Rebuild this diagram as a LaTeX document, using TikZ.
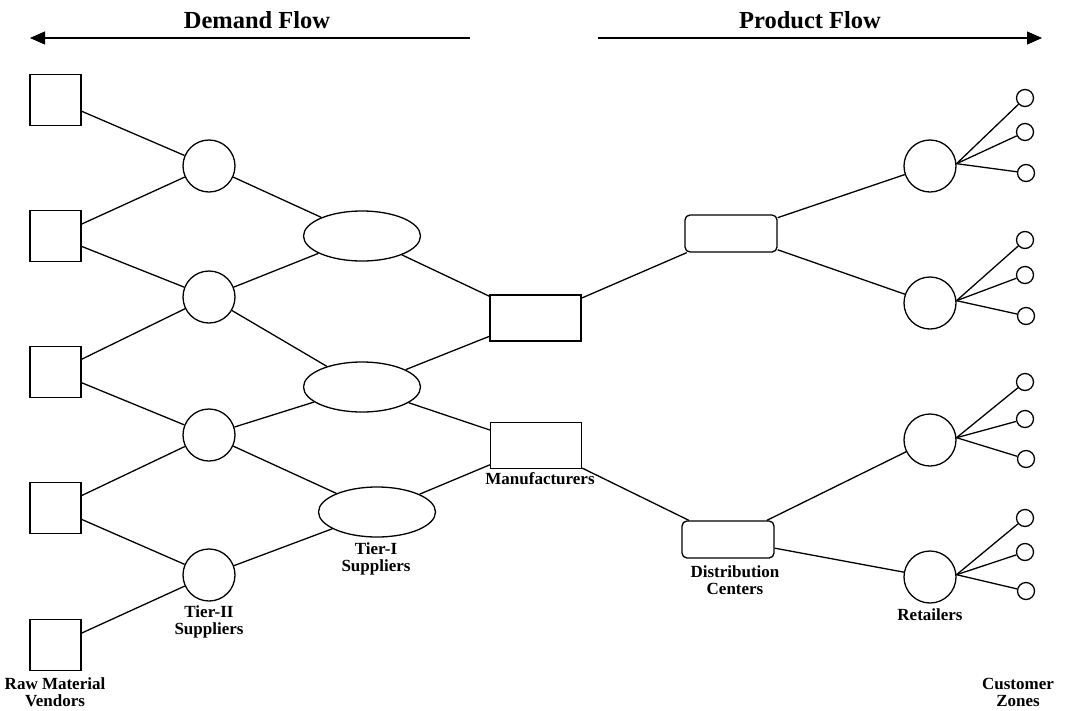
\documentclass[tikz,border=0pt]{standalone}
\usepackage{fontspec}
\setmainfont{Liberation Serif}
\usetikzlibrary{arrows.meta,shapes.geometric}
\begin{document}
\begin{tikzpicture}[x=1pt,y=-1pt, line width=1.3pt,
 vendor/.style={draw, minimum width=51pt, minimum height=51pt, inner sep=0pt},
 tiertwo/.style={draw, circle, minimum size=52pt, inner sep=0pt},
 tierone/.style={draw, ellipse, minimum width=117pt, minimum height=50pt, inner sep=0pt},
 maker/.style={draw, minimum width=91pt, minimum height=46pt, inner sep=0pt},
 dc/.style={draw, rounded corners=5pt, minimum width=92pt, minimum height=37pt, inner sep=0pt},
 retail/.style={draw, circle, minimum size=52pt, inner sep=0pt},
 cust/.style={draw, circle, minimum size=17pt, inner sep=0pt},
 lbl/.style={font=\bfseries\fontsize{17}{17}\selectfont, align=center, inner sep=0pt},
 ttl/.style={font=\bfseries\fontsize{24.5}{24.5}\selectfont, inner sep=0pt},
 flow/.style={line width=1.1pt, -{Triangle[length=15pt,width=13pt]}}]
\useasboundingbox (0,0) rectangle (1065,710);

% titles and flow arrows
\node[ttl] (tdemand) at (257,20) {Demand Flow};
\node[ttl] (tproduct) at (810,20) {Product Flow};
\coordinate (dfs) at (470,38);
\coordinate (dfe) at (30,38);
\coordinate (pfs) at (598,38);
\coordinate (pfe) at (1042,38);
\draw[flow] (dfs) -- (dfe);
\draw[flow] (pfs) -- (pfe);

% raw material vendors
\node[vendor] (s1) at (55.5,100) {};
\node[vendor] (s2) at (55.5,236) {};
\node[vendor] (s3) at (55.5,372) {};
\node[vendor] (s4) at (55.5,508) {};
\node[vendor] (s5) at (55.5,645) {};

% tier II
\node[tiertwo] (t1) at (209,166) {};
\node[tiertwo] (t2) at (209,297) {};
\node[tiertwo] (t3) at (209,435) {};
\node[tiertwo] (t4) at (209,575) {};

% tier I
\node[tierone] (e1) at (362,236) {};
\node[tierone] (e2) at (362,387) {};
\node[tierone] (e3) at (377,512) {};

% manufacturers
\node[maker] (m1) at (535.5,318) {};
\node[maker] (m2) at (536,445.5) {};

% distribution centers
\node[dc] (d1) at (731,233.5) {};
\node[dc] (d2) at (728,539.5) {};

% retailers
\node[retail] (r1) at (930,166) {};
\node[retail] (r2) at (930,303) {};
\node[retail] (r3) at (930,440) {};
\node[retail] (r4) at (930,577) {};

% customers
\node[cust] (c11) at (1025,98) {};
\node[cust] (c12) at (1025,132) {};
\node[cust] (c13) at (1026,173) {};
\node[cust] (c21) at (1025,240) {};
\node[cust] (c22) at (1025,275) {};
\node[cust] (c23) at (1026,316) {};
\node[cust] (c31) at (1025,382) {};
\node[cust] (c32) at (1025,419) {};
\node[cust] (c33) at (1026,459) {};
\node[cust] (c41) at (1025,518) {};
\node[cust] (c42) at (1025,552) {};
\node[cust] (c43) at (1026,591) {};

% labels
\node[lbl] (lraw) at (55,692) {Raw Material\\Vendors};
\node[lbl] (ltwo) at (209,622) {Tier-II\\Suppliers};
\node[lbl] (lone) at (376,559) {Tier-I\\Suppliers};
\node[lbl] (lman) at (540,479) {Manufacturers};
\node[lbl] (ldc) at (735,580) {Distribution\\Centers};
\node[lbl] (lret) at (930,615) {Retailers};
\node[lbl] (lcust) at (1018,692) {Customer\\Zones};

% connectors
\draw (s1) -- (t1);
\draw (s2) -- (t1);
\draw (s2) -- (t2);
\draw (s3) -- (t2);
\draw (s3) -- (t3);
\draw (s4) -- (t3);
\draw (s4) -- (t4);
\draw (s5) -- (t4);
\draw (t1) -- (e1);
\draw (t2) -- (e1);
\draw (t2) -- (e2);
\draw (t3) -- (e2);
\draw (t3) -- (e3);
\draw (t4) -- (e3);
\draw (e1) -- (m1);
\draw (e2) -- (m1);
\draw (e2) -- (m2);
\draw (e3) -- (m2);
\draw (m1) -- (d1);
\draw (m2) -- (d2);
\draw (d1) -- (r1);
\draw (d1) -- (r2);
\draw (d2) -- (r3);
\draw (d2) -- (r4);
\foreach \r in {1,2,3,4}{
  \foreach \c in {1,2,3}{
    \draw (r\r.5) -- (c\r\c);
  }
}
\end{tikzpicture}
\end{document}
